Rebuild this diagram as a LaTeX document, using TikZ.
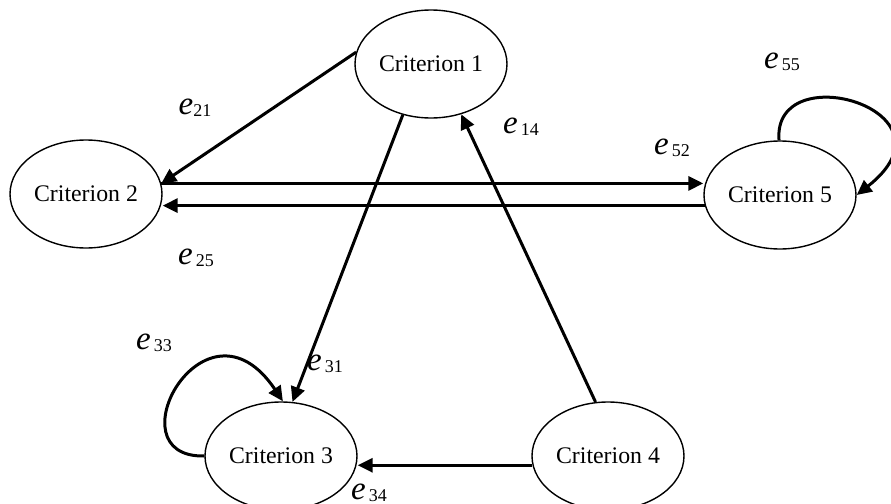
\documentclass[tikz,border=0pt]{standalone}
\usepackage{fontspec}
\setmainfont{Liberation Serif}
\usetikzlibrary{arrows.meta,shapes}

\newcommand{\elab}[2][1.5pt]{{\fontsize{16.5}{18}\selectfont\itshape e}\kern#1\raisebox{-1pt}{\fontsize{9}{11}\selectfont #2}}

\begin{document}
\begin{tikzpicture}[x=0.5pt,y=-0.5pt,
    crit/.style={ellipse,draw,line width=0.7pt,minimum width=76pt,minimum height=54pt,inner sep=0pt,font=\fontsize{11.9}{14}\selectfont},
    arr/.style={line width=1.5pt,-{Triangle[length=7.5pt,width=7pt]}},
    lab/.style={inner sep=0pt}]
    \useasboundingbox (0,0) rectangle (891,504);
    \node[crit] (c1) at (431,64) {Criterion 1};
    \node[crit] (c2) at (86,194) {Criterion 2};
    \node[crit] (c3) at (281,456) {Criterion 3};
    \node[crit] (c4) at (608,456) {Criterion 4};
    \node[crit] (c5) at (780,195) {Criterion 5};

    \draw[arr] (c1.171) -- (c2.8);
    \draw[arr] (c2.8) -- (c2.8 -| c5.west);
    \draw[arr] (c5.188) -- (c5.188 -| c2.east);
    \draw[arr] (c1.241) -- (c3.78);
    \draw[arr] (c4.103) -- (c1.301);
    \draw[arr] (c4.187) -- (c4.187 -| c3.east);
    \draw[arr] (c3.180) .. controls (110,458) and (205,285) .. (c3.88);
    \draw[arr] (c5.91) .. controls (772,55) and (965,110) .. (c5.east);

    \node[lab] (l21) at (195,108) {\elab[0pt]{21}};
    \node[lab] (l14) at (521,127) {\elab{14}};
    \node[lab] (l52) at (672,148) {\elab{52}};
    \node[lab] (l55) at (782,62) {\elab{55}};
    \node[lab] (l25) at (196,258) {\elab{25}};
    \node[lab] (l33) at (154,343) {\elab{33}};
    \node[lab] (l31) at (325,364) {\elab{31}};
    \node[lab] (l34) at (369,493) {\elab{34}};
\end{tikzpicture}
\end{document}
